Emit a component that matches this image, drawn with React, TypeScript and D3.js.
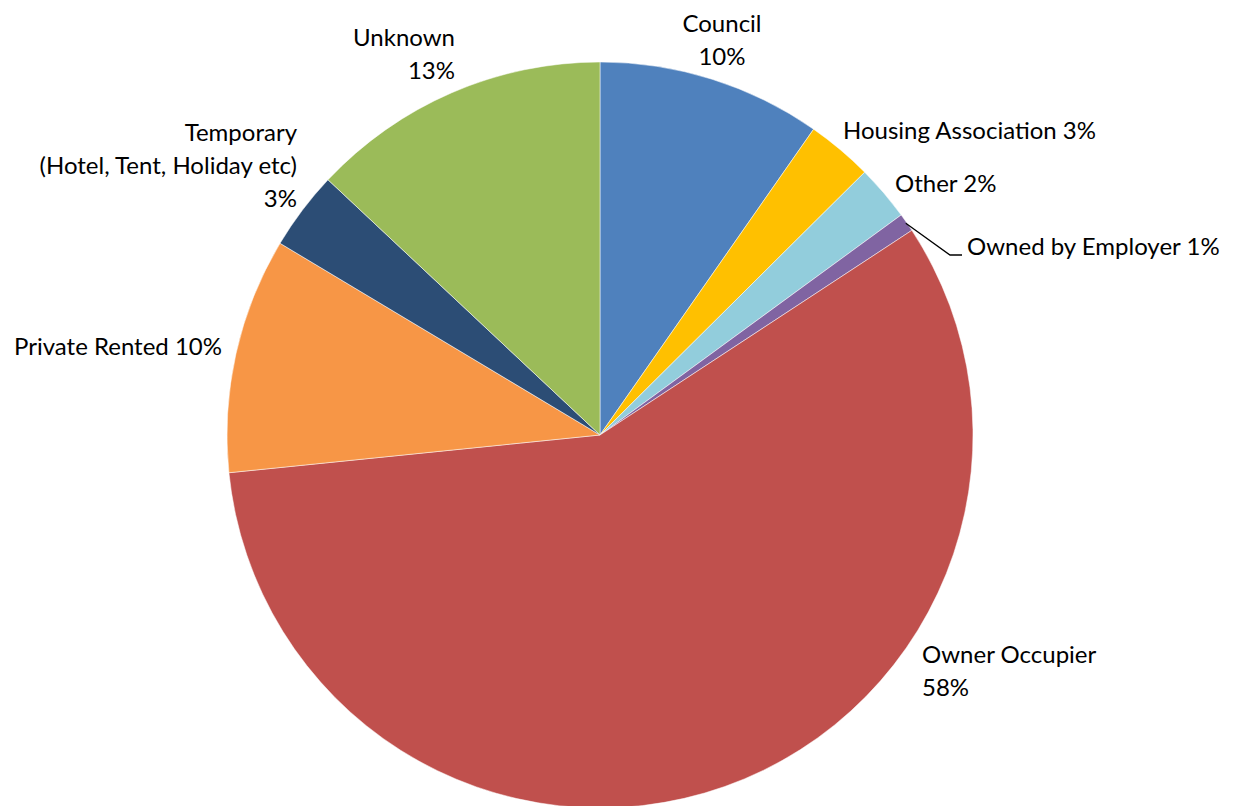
import React, { useEffect, useRef } from 'react';
import * as d3 from 'd3';

const categories = [
  'Council',
  'Housing Association',
  'Other',
  'Owned by Employer',
  'Owner Occupier',
  'Private Rented',
  'Temporary',
  'Unknown',
];
const values = [9.7, 2.85, 2.4, 0.8, 57.6, 10.2, 3.4, 13.0];
const colors = ['#4F81BD', '#FFC000', '#92CDDC', '#8064A2', '#C0504D', '#F79646', '#2C4D75', '#9BBB59'];

// label layout: text lines (pct appended), anchor, position
type LabelSpec = { lines: string[]; anchor: string; x: number; y: number };

const W = 1233;
const H = 806;

export default function App() {
  const svgRef = useRef<SVGSVGElement>(null);

  useEffect(() => {
    if (!svgRef.current) return;
    const svg = d3.select(svgRef.current);
    svg.selectAll('*').remove();

    const cx = 600;
    const cy = 435;
    const r = 373;
    const total = d3.sum(values);
    const pct = (i: number) => `${Math.round((values[i] / total) * 100)}%`;

    const data = categories.map((c, i) => ({ name: c, value: values[i], color: colors[i] }));
    const pie = d3.pie<typeof data[0]>().value(d => d.value).sort(null);
    const arc = d3.arc<d3.PieArcDatum<typeof data[0]>>().innerRadius(0).outerRadius(r);
    const arcs = pie(data);

    const g = svg.append('g').attr('transform', `translate(${cx},${cy})`);
    g.selectAll('path')
      .data(arcs)
      .join('path')
      .attr('d', arc)
      .attr('fill', d => d.data.color)
      .attr('stroke', '#ffffff')
      .attr('stroke-width', 0.5);

    const labels: LabelSpec[] = [
      { lines: ['Council', pct(0)], anchor: 'middle', x: 722, y: 32 },
      { lines: [`Housing Association ${pct(1)}`], anchor: 'start', x: 843, y: 139 },
      { lines: [`Other ${pct(2)}`], anchor: 'start', x: 895, y: 192 },
      { lines: [`Owned by Employer ${pct(3)}`], anchor: 'start', x: 967, y: 255 },
      { lines: ['Owner Occupier', pct(4)], anchor: 'start', x: 922, y: 663 },
      { lines: [`Private Rented ${pct(5)}`], anchor: 'end', x: 222, y: 355 },
      { lines: ['Temporary', '(Hotel, Tent, Holiday etc)', pct(6)], anchor: 'end', x: 297, y: 141 },
      { lines: ['Unknown', pct(7)], anchor: 'end', x: 455, y: 46 },
    ];

    // leader line for the small slice
    const emp = arcs[3];
    const mid = (emp.startAngle + emp.endAngle) / 2;
    const sx = cx + Math.sin(mid) * (r - 1);
    const sy = cy - Math.cos(mid) * (r - 1);
    svg.append('polyline')
      .attr('points', `${sx},${sy} 950,255 962,255`)
      .attr('fill', 'none')
      .attr('stroke', '#000')
      .attr('stroke-width', 1.3);

    labels.forEach(l => {
      const t = svg.append('text')
        .attr('text-anchor', l.anchor)
        .attr('font-family', 'Lato, "Open Sans", sans-serif')
        .attr('font-size', 24)
        .attr('fill', '#000');
      l.lines.forEach((line, i) => {
        t.append('tspan').attr('x', l.x).attr('y', l.y + i * 33).text(line);
      });
    });
  }, []);

  return (
    <svg
      ref={svgRef}
      width={W}
      height={H}
      style={{ position: 'absolute', left: 0, top: 0, background: '#fff' }}
    />
  );
}
